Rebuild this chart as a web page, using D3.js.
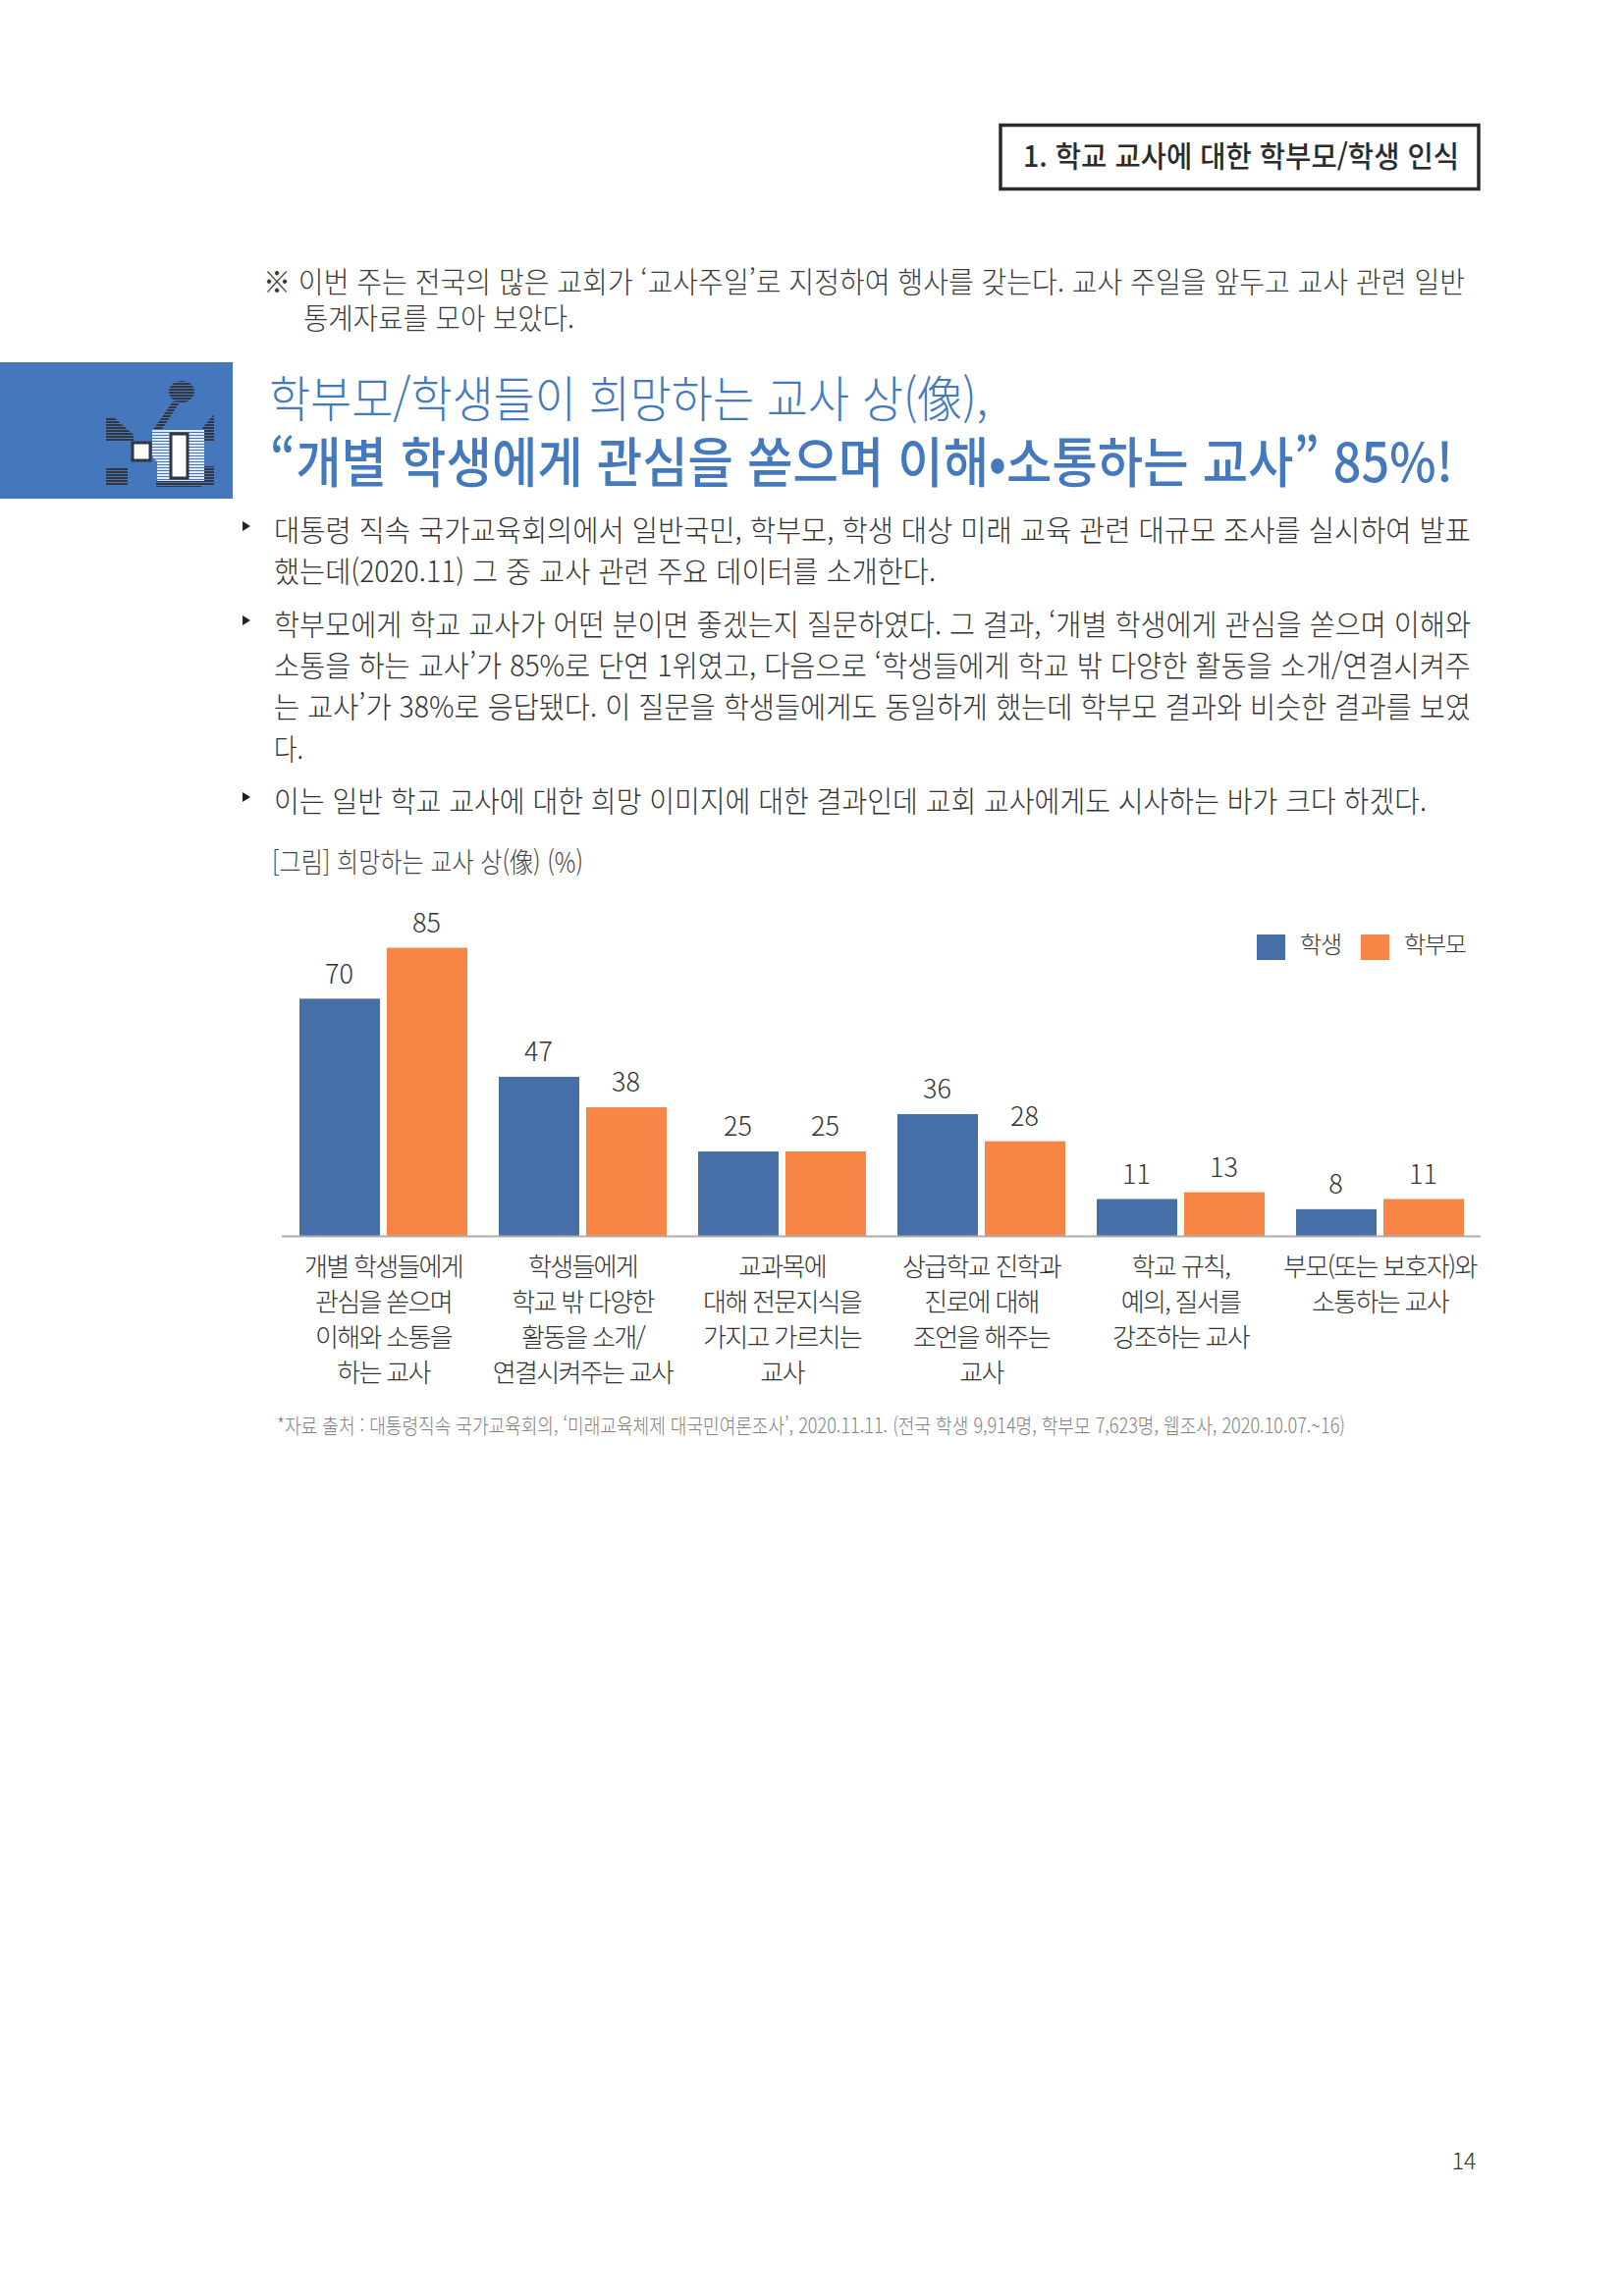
<!DOCTYPE html>
<html lang="ko">
<head>
<meta charset="utf-8">
<title>희망하는 교사 상</title>
<script src="https://cdn.jsdelivr.net/npm/d3@7"></script>
<style>
	html, body { margin: 0; padding: 0; background: #fff; }
	text { font-family: "Noto Sans CJK KR", "Noto Sans", sans-serif; }
</style>
</head>
<body>
<div id="page"></div>
<script>
// chart data
var categories = [
	["개별 학생들에게", "관심을 쏟으며", "이해와 소통을", "하는 교사"],
	["학생들에게", "학교 밖 다양한", "활동을 소개/", "연결시켜주는 교사"],
	["교과목에", "대해 전문지식을", "가지고 가르치는", "교사"],
	["상급학교 진학과", "진로에 대해", "조언을 해주는", "교사"],
	["학교 규칙,", "예의, 질서를", "강조하는 교사"],
	["부모(또는 보호자)와", "소통하는 교사"]
];
var seriesNames = ["학생", "학부모"];
var seriesColors = ["#466fa8", "#f68546"];
var studentValues = [70, 47, 25, 36, 11, 8];
var parentValues = [85, 38, 25, 28, 13, 11];

// page text, [text, left, right, middle y]
var bodyLines = [
	["대통령 직속 국가교육회의에서 일반국민, 학부모, 학생 대상 미래 교육 관련 대규모 조사를 실시하여 발표", 279, 1498, 540.5],
	["했는데(2020.11) 그 중 교사 관련 주요 데이터를 소개한다.", 279, 953, 582.5],
	["학부모에게 학교 교사가 어떤 분이면 좋겠는지 질문하였다. 그 결과, ‘개별 학생에게 관심을 쏟으며 이해와", 279, 1498, 636.5],
	["소통을 하는 교사’가 85%로 단연 1위였고, 다음으로 ‘학생들에게 학교 밖 다양한 활동을 소개/연결시켜주", 279, 1498, 678.5],
	["는 교사’가 38%로 응답됐다. 이 질문을 학생들에게도 동일하게 했는데 학부모 결과와 비슷한 결과를 보였", 279, 1498, 720.5],
	["다.", 279, 309, 763.5],
	["이는 일반 학교 교사에 대한 희망 이미지에 대한 결과인데 교회 교사에게도 시사하는 바가 크다 하겠다.", 279, 1453, 816.5]
];
var noteLines = [
	["※ 이번 주는 전국의 많은 교회가 ‘교사주일’로 지정하여 행사를 갖는다. 교사 주일을 앞두고 교사 관련 일반", 268, 1492, 287.5],
	["통계자료를 모아 보았다.", 309, 585, 324.5]
];
var bulletRows = [536, 632, 812];

var svg = d3.select("#page").append("svg")
	.attr("width", 1653)
	.attr("height", 2339)
	.style("display", "block");

// one line of text stretched to the width it has on the page
var addLine = function(line, size, weight, color) {
	return svg.append("text")
		.attr("x", line[1])
		.attr("y", line[3])
		.attr("dy", "0.36em")
		.attr("textLength", line[2] - line[1])
		.attr("lengthAdjust", "spacingAndGlyphs")
		.attr("font-size", size)
		.attr("font-weight", weight)
		.attr("fill", color)
		.text(line[0]);
};

/*** header ***/
svg.append("rect")
	.attr("x", 1019).attr("y", 127.5)
	.attr("width", 487).attr("height", 65)
	.attr("fill", "none")
	.attr("stroke", "#2b2b2b")
	.attr("stroke-width", 3.5);
addLine(["1. 학교 교사에 대한 학부모/학생 인식", 1042, 1486, 159.5], 30, 500, "#2b2b2b");

noteLines.forEach(function(l) { addLine(l, 29.5, 300, "#3a3a3a"); });

/*** blue title block with the icon ***/
svg.append("rect")
	.attr("x", 0).attr("y", 369)
	.attr("width", 237).attr("height", 139)
	.attr("fill", "#4477bb");

var defs = svg.append("defs");
var darkLines = defs.append("pattern")
	.attr("id", "darkLines").attr("width", 4).attr("height", 3)
	.attr("patternUnits", "userSpaceOnUse");
darkLines.append("rect").attr("width", 4).attr("height", 2).attr("fill", "#33353f");
var paleLines = defs.append("pattern")
	.attr("id", "paleLines").attr("width", 4).attr("height", 3)
	.attr("patternUnits", "userSpaceOnUse");
paleLines.append("rect").attr("width", 4).attr("height", 2).attr("fill", "#dfe9f7");

var icon = svg.append("g");
icon.append("ellipse")
	.attr("cx", 185).attr("cy", 399).attr("rx", 13).attr("ry", 11)
	.attr("fill", "url(#darkLines)");
[["M176,409 L183,410 L163,440 L155,439 Z", "url(#darkLines)"],
 ["M108,425 L116,425 L136,443 L136,449 L108,449 Z", "url(#darkLines)"],
 ["M218,422 L218,449 L206,449 L206,436 Z", "url(#darkLines)"],
 ["M155,438 L208,438 L208,490 L160,490 L160,470 L155,465 Z", "url(#paleLines)"],
 ["M108,477 L130,477 L130,495 L108,495 Z", "url(#darkLines)"],
 ["M159,490 L218,490 L218,494 L205,494 L205,496 L159,496 Z", "url(#darkLines)"],
 ["M208,475 L218,475 L218,490 L208,490 Z", "url(#darkLines)"]
].forEach(function(d) {
	icon.append("path").attr("d", d[0]).attr("fill", d[1]);
});
icon.append("rect")
	.attr("x", 135).attr("y", 451).attr("width", 18).attr("height", 18)
	.attr("fill", "#fff").attr("stroke", "#33353f").attr("stroke-width", 3);
icon.append("rect")
	.attr("x", 174).attr("y", 442).attr("width", 17).attr("height", 45)
	.attr("fill", "#fff").attr("stroke", "#33353f").attr("stroke-width", 3);

addLine(["학부모/학생들이 희망하는 교사 상(像),", 274, 1006, 406.5], 50, 300, "#4479bd");
addLine(["“개별 학생에게 관심을 쏟으며 이해•소통하는 교사” 85%!", 275, 1480, 471], 55, 500, "#4479bd");

/*** body text ***/
svg.selectAll(".bullet")
	.data(bulletRows)
	.enter().append("path")
	.attr("class", "bullet")
	.attr("d", function(d) { return "M247," + (d - 5) + " L255," + d + " L247," + (d + 5) + " Z"; })
	.attr("fill", "#222");

bodyLines.forEach(function(l) { addLine(l, 30, 300, "#333"); });
addLine(["[그림] 희망하는 교사 상(像) (%)", 277, 594, 878.5], 28, 300, "#444");

/*** bar chart ***/
var baseline = 1259.5;
var x0 = d3.scaleBand()
	.domain(d3.range(categories.length))
	.range([289, 1507]);
var x1 = d3.scaleBand()
	.domain(seriesNames)
	.range([16, 187])
	.paddingInner(0.0787);
var y = d3.scaleLinear()
	.domain([0, 85])
	.range([baseline, baseline - 294]);

var groups = svg.selectAll(".group")
	.data(d3.range(categories.length))
	.enter().append("g")
	.attr("class", "group")
	.attr("transform", function(i) { return "translate(" + x0(i) + ",0)"; });

var rows = function(i) {
	return [
		{ name: seriesNames[0], value: studentValues[i], color: seriesColors[0] },
		{ name: seriesNames[1], value: parentValues[i], color: seriesColors[1] }
	];
};

groups.selectAll("rect")
	.data(rows)
	.enter().append("rect")
	.attr("x", function(d) { return x1(d.name); })
	.attr("y", function(d) { return y(d.value); })
	.attr("width", x1.bandwidth())
	.attr("height", function(d) { return baseline - y(d.value); })
	.attr("fill", function(d) { return d.color; });

groups.selectAll(".value")
	.data(rows)
	.enter().append("text")
	.attr("class", "value")
	.attr("x", function(d) { return x1(d.name) + x1.bandwidth() / 2 - 0.5; })
	.attr("y", function(d) { return y(d.value) - 25.5; })
	.attr("dy", "0.36em")
	.attr("text-anchor", "middle")
	.attr("font-size", 27)
	.attr("font-weight", 300)
	.attr("fill", "#333")
	.text(function(d) { return d.value; });

var axis = svg.append("g")
	.attr("transform", "translate(0," + baseline + ")")
	.call(d3.axisBottom(x0).tickSize(0).tickPadding(0));
axis.select(".domain")
	.attr("d", "M287,0 H1508")
	.attr("stroke", "#adadad")
	.attr("stroke-width", 2);
axis.selectAll(".tick text").each(function(i) {
	var t = d3.select(this).text(null)
		.attr("y", 0).attr("dy", null)
		.attr("font-family", null)
		.attr("font-size", 26)
		.attr("font-weight", 300)
		.attr("letter-spacing", -1.7)
		.attr("fill", "#333");
	categories[i].forEach(function(line, k) {
		t.append("tspan")
			.attr("x", 0)
			.attr("y", 31 + k * 36.2)
			.attr("dy", "0.36em")
			.text(line);
	});
});

// legend
var legend = svg.append("g");
var legendX = d3.scaleOrdinal().domain(seriesNames).range([1280, 1386]);
seriesNames.forEach(function(name, i) {
	legend.append("rect")
		.attr("x", legendX(name)).attr("y", 952)
		.attr("width", 29).attr("height", 26)
		.attr("fill", seriesColors[i]);
	legend.append("text")
		.attr("x", legendX(name) + 44).attr("y", 962)
		.attr("dy", "0.36em")
		.attr("font-size", 24)
		.attr("font-weight", 300)
		.attr("letter-spacing", -1.2)
		.attr("fill", "#333")
		.text(name);
});

addLine(["*자료 출처 : 대통령직속 국가교육회의, ‘미래교육체제 대국민여론조사’, 2020.11.11. (전국 학생 9,914명, 학부모 7,623명, 웹조사, 2020.10.07.~16)", 282, 1370, 1452.5], 21, 300, "#808080");

svg.append("text")
	.attr("x", 1491).attr("y", 2202)
	.attr("dy", "0.36em")
	.attr("text-anchor", "middle")
	.attr("font-size", 23)
	.attr("font-weight", 300)
	.attr("fill", "#333")
	.text("14");
</script>
</body>
</html>
